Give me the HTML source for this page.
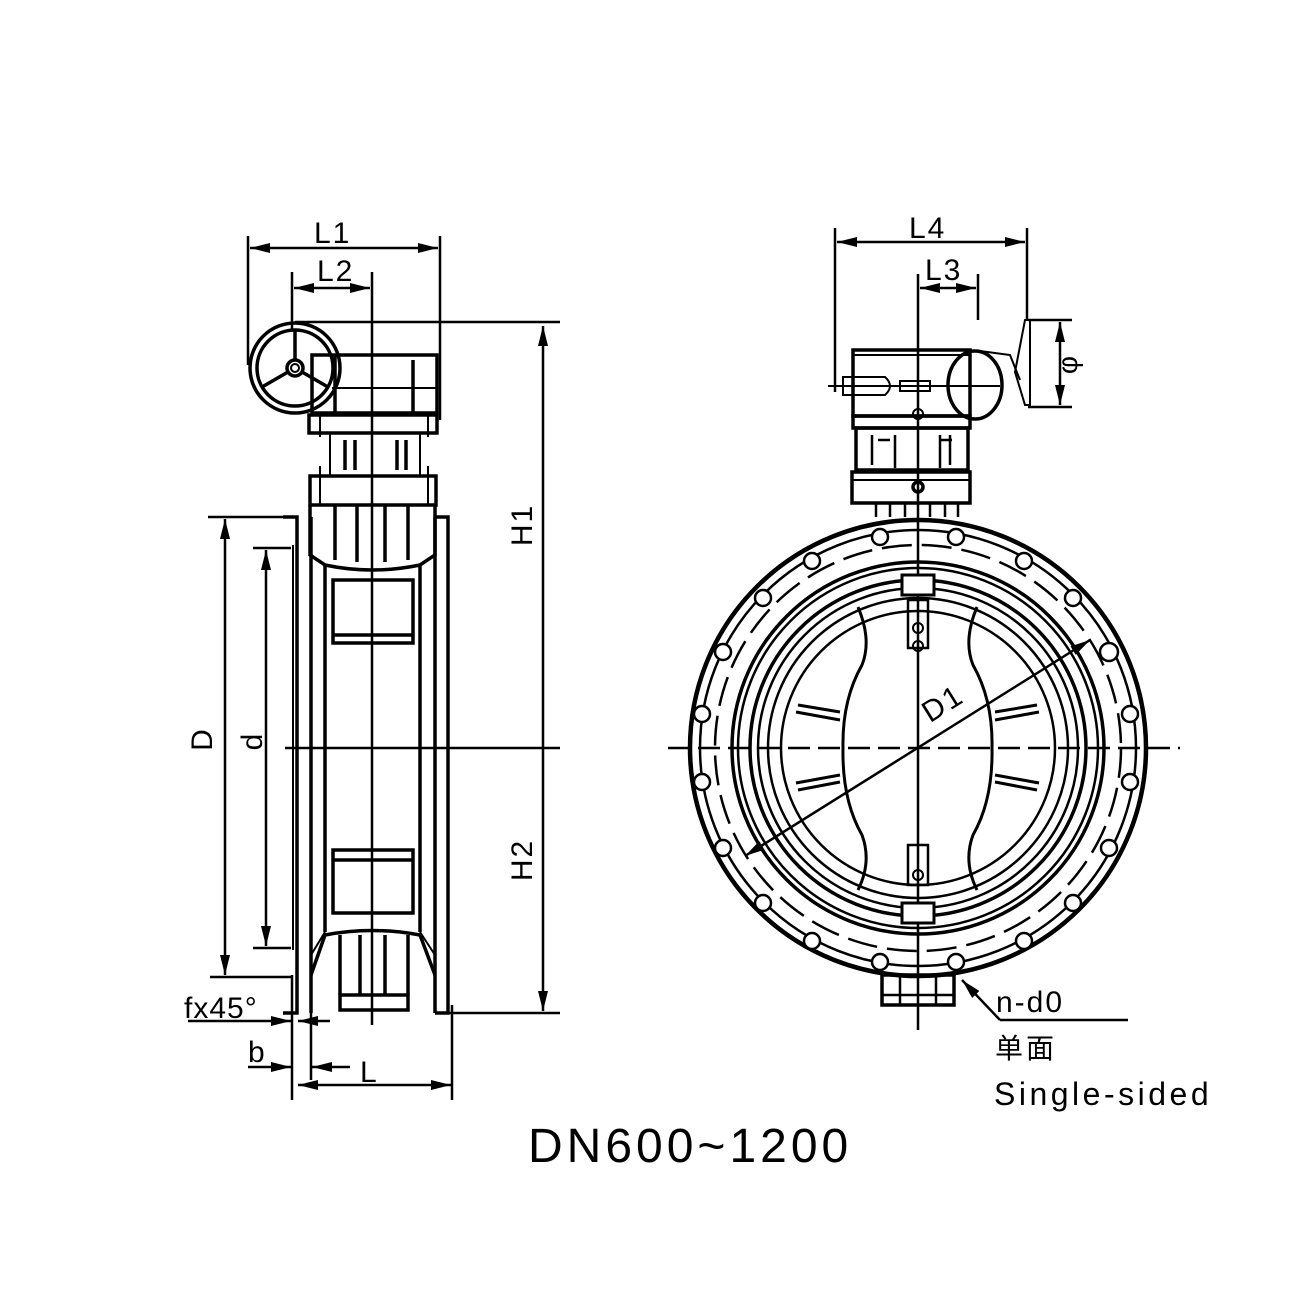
<!DOCTYPE html>
<html><head><meta charset="utf-8"><style>html,body{margin:0;padding:0;background:#fff}svg{display:block}</style></head>
<body>
<svg width="1303" height="1302" viewBox="0 0 1303 1302" xmlns="http://www.w3.org/2000/svg">
<defs>
<marker id="b" viewBox="0 0 20 10" refX="20" refY="5" markerWidth="20" markerHeight="10" markerUnits="userSpaceOnUse" orient="auto-start-reverse"><path d="M0,0 L20,5 L0,10 z" fill="#000"/></marker>
</defs>
<g stroke="#000" fill="none" stroke-width="3.5">
<g stroke-width="2.5">
<line x1="248" y1="236" x2="248" y2="365"/><line x1="440" y1="236" x2="440" y2="420"/>
<line x1="250" y1="248" x2="438" y2="248" marker-start="url(#b)" marker-end="url(#b)"/>
<line x1="292" y1="272" x2="292" y2="330"/><line x1="372" y1="272" x2="372" y2="420"/>
<line x1="294" y1="288" x2="370" y2="288" marker-start="url(#b)" marker-end="url(#b)"/>
<line x1="295" y1="322" x2="560" y2="322"/>
<line x1="543" y1="326" x2="543" y2="1011" marker-start="url(#b)" marker-end="url(#b)"/>
<line x1="440" y1="1013" x2="560" y2="1013"/>
<line x1="285" y1="748" x2="560" y2="748"/>
<line x1="208" y1="517" x2="292" y2="517"/><line x1="210" y1="977" x2="292" y2="977"/>
<line x1="225" y1="519" x2="225" y2="975" marker-start="url(#b)" marker-end="url(#b)"/>
<line x1="253" y1="548" x2="291" y2="548"/><line x1="253" y1="948" x2="291" y2="948"/>
<line x1="266" y1="550" x2="266" y2="946" marker-start="url(#b)" marker-end="url(#b)"/>
<line x1="188" y1="1021" x2="291" y2="1021" marker-end="url(#b)"/>
<line x1="330" y1="1021" x2="298" y2="1021" marker-end="url(#b)"/>
<line x1="248" y1="1067" x2="291" y2="1067" marker-end="url(#b)"/>
<line x1="350" y1="1067" x2="312" y2="1067" marker-end="url(#b)"/>
<line x1="298" y1="1085" x2="451" y2="1085" marker-start="url(#b)" marker-end="url(#b)"/>
<line x1="292" y1="975" x2="292" y2="1100"/><line x1="311" y1="1013" x2="311" y2="1080"/><line x1="452" y1="1005" x2="452" y2="1100"/>
</g>
<circle cx="295" cy="368" r="45"/><circle cx="295" cy="368" r="38"/>
<circle cx="295" cy="368" r="8"/><circle cx="295" cy="368" r="4" stroke-width="2"/>
<path d="M295,330 V360 M262,387 L288,372 M328,387 L302,372" stroke-width="3.5"/>
<rect x="312" y="355" width="125" height="58"/>
<line x1="335" y1="355" x2="335" y2="413"/><line x1="413" y1="360" x2="413" y2="413"/>
<line x1="332" y1="388" x2="437" y2="388" stroke-width="2"/>
<rect x="309" y="415" width="128" height="18"/>
<line x1="320" y1="413" x2="320" y2="437" stroke-width="2"/><line x1="428" y1="413" x2="428" y2="437" stroke-width="2"/>
<rect x="330" y="433" width="90" height="43" stroke-width="2"/>
<line x1="345" y1="440" x2="345" y2="470"/><line x1="355" y1="440" x2="355" y2="470"/><line x1="397" y1="440" x2="397" y2="470"/><line x1="406" y1="440" x2="406" y2="470"/>
<rect x="310" y="476" width="126" height="29"/>
<line x1="320" y1="466" x2="320" y2="505" stroke-width="2"/><line x1="428" y1="466" x2="428" y2="505" stroke-width="2"/>
<path d="M310,505 V555 L325,565 Q372,575 420,565 L435,555 V505"/>
<line x1="335" y1="505" x2="335" y2="560"/><line x1="357" y1="505" x2="357" y2="562"/><line x1="385" y1="505" x2="385" y2="562"/><line x1="408" y1="505" x2="408" y2="560"/>
<path d="M283,517 H297 V1013 H283"/>
<path d="M435,517 H448 V1013 H435"/>
<line x1="293" y1="545" x2="293" y2="950" stroke-width="2"/>
<line x1="311" y1="517" x2="311" y2="1013"/><line x1="435" y1="517" x2="435" y2="1013"/>
<line x1="325" y1="565" x2="325" y2="932"/><line x1="420" y1="565" x2="420" y2="932"/>
<rect x="333" y="580" width="80" height="63"/><line x1="333" y1="635" x2="413" y2="635"/>
<rect x="333" y="850" width="80" height="63"/><line x1="333" y1="860" x2="413" y2="860"/>
<path d="M311,975 L325,935 Q372,926 420,935 L435,975"/>
<path d="M311,955 L325,932 M420,932 L435,955" stroke-width="2"/>
<rect x="340" y="995" width="68" height="15"/>
<line x1="340" y1="935" x2="340" y2="995"/><line x1="360" y1="935" x2="360" y2="995"/><line x1="385" y1="935" x2="385" y2="995"/><line x1="408" y1="935" x2="408" y2="995"/>
<line x1="372" y1="420" x2="372" y2="1025" stroke-width="2.5"/>

<g stroke-width="2.5">
<line x1="835" y1="228" x2="835" y2="392"/><line x1="1027" y1="228" x2="1027" y2="320"/>
<line x1="837" y1="242" x2="1025" y2="242" marker-start="url(#b)" marker-end="url(#b)"/>
<line x1="918" y1="274" x2="918" y2="1030"/><line x1="978" y1="274" x2="978" y2="320"/>
<line x1="920" y1="288" x2="976" y2="288" marker-start="url(#b)" marker-end="url(#b)"/>
<line x1="1028" y1="320" x2="1072" y2="320"/><line x1="1028" y1="407" x2="1072" y2="407"/>
<line x1="1060" y1="322" x2="1060" y2="405" marker-start="url(#b)" marker-end="url(#b)"/>
<line x1="668" y1="748" x2="1180" y2="748" stroke-dasharray="22,8"/>
<line x1="745" y1="856" x2="1090" y2="640" marker-start="url(#b)" marker-end="url(#b)"/>
<path d="M1000,1020 H1128" /><line x1="1000" y1="1020" x2="962" y2="980" marker-end="url(#b)"/>
</g>
<rect x="853" y="350" width="117" height="66"/>
<line x1="828" y1="386" x2="1000" y2="386" stroke-width="2"/>
<path d="M843,377 H885 Q895,386 885,395 H843 Z" stroke-width="2"/>
<rect x="900" y="381" width="30" height="10" stroke-width="2"/>
<ellipse cx="975" cy="385" rx="27" ry="34"/>
<path d="M980,351 L1010,355 L1020,380" stroke-width="2"/>
<path d="M1025,320 L1030,320 V405 H1025 L1015,372 Z" stroke-width="2"/>
<line x1="853" y1="355" x2="970" y2="355" stroke-width="2"/>
<rect x="853" y="416" width="117" height="12"/>
<rect x="856" y="428" width="112" height="42"/>
<path d="M872,435 V465 M950,435 V465 M878,440 H890 M940,440 H952 M895,435 V468 M940,435 V468" stroke-width="2.5"/>
<rect x="852" y="472" width="118" height="31"/>
<line x1="852" y1="480" x2="970" y2="480" stroke-width="2"/>
<circle cx="918" cy="487" r="5"/><circle cx="918" cy="414" r="5" stroke-width="2"/>
<path d="M876,503 V517 M890,503 V517 M905,503 V517 M930,503 V517 M945,503 V517 M958,503 V517" stroke-width="2.5"/>
<circle cx="918" cy="748" r="228" stroke-width="4.5"/>
<circle cx="918" cy="748" r="218" stroke-width="2.5"/>
<circle cx="918" cy="748" r="203" stroke-width="2.5" stroke-dasharray="30,10"/>
<circle cx="918" cy="748" r="186" stroke-width="3.5"/>
<circle cx="918" cy="748" r="180" stroke-width="2.5"/>
<circle cx="918" cy="748" r="168" stroke-width="3.5"/>
<circle cx="918" cy="748" r="160" stroke-width="2.5"/>
<circle cx="918" cy="748" r="150" stroke-width="2.5"/>
<circle cx="918" cy="748" r="137" stroke-width="2.5"/>
<g stroke-width="2.5" fill="#fff">
<circle cx="880" cy="537" r="8"/><circle cx="956" cy="537" r="8"/>
<circle cx="812" cy="561" r="8"/><circle cx="1024" cy="561" r="8"/>
<circle cx="763" cy="598" r="8"/><circle cx="1073" cy="598" r="8"/>
<circle cx="723" cy="652" r="8"/><circle cx="1109" cy="652" r="9"/>
<circle cx="702" cy="714" r="8"/><circle cx="1130" cy="714" r="8"/>
<circle cx="702" cy="782" r="8"/><circle cx="1130" cy="782" r="8"/>
<circle cx="723" cy="848" r="8"/><circle cx="1109" cy="848" r="8"/>
<circle cx="763" cy="903" r="8"/><circle cx="1073" cy="903" r="8"/>
<circle cx="812" cy="941" r="8"/><circle cx="1024" cy="941" r="8"/>
<circle cx="880" cy="962" r="8"/><circle cx="956" cy="962" r="8"/>
</g>
<path d="M858,607 Q872,640 862,665 Q842,700 843,748 Q842,800 862,835 Q872,862 858,890" stroke-width="3"/>
<path d="M977,607 Q963,640 973,665 Q993,700 992,748 Q993,800 973,835 Q963,862 977,890" stroke-width="3"/>
<path d="M798,705 L840,712 M796,712 L840,720 M798,790 L840,782 M796,783 L840,775 M1037,705 L995,712 M1039,712 L995,720 M1037,790 L995,782 M1039,783 L995,775" stroke-width="3"/>
<rect x="902" y="575" width="32" height="20" stroke-width="3" fill="#fff"/>
<rect x="902" y="903" width="32" height="20" stroke-width="3" fill="#fff"/>
<rect x="908" y="600" width="20" height="48" stroke-width="2.5"/>
<rect x="908" y="845" width="20" height="40" stroke-width="2.5"/>
<circle cx="918" cy="628" r="5" stroke-width="2"/><circle cx="918" cy="646" r="5" stroke-width="2"/>
<circle cx="918" cy="875" r="5" stroke-width="2"/>
<rect x="882" y="975" width="72" height="30"/>
<path d="M900,975 V1005 M936,975 V1005 M882,995 H954" stroke-width="2.5"/>
</g>
<g font-family="'Liberation Sans','Noto Sans CJK SC',sans-serif" fill="#000">
<text x="314" y="243" font-size="30" letter-spacing="2">L1</text>
<text x="317" y="281" font-size="30" letter-spacing="2">L2</text>
<text x="909" y="238" font-size="30" letter-spacing="2">L4</text>
<text x="925" y="280" font-size="30" letter-spacing="2">L3</text>
<text transform="translate(1077,365) rotate(-90)" font-size="28" text-anchor="middle">φ</text>
<text transform="translate(532,525) rotate(-90)" font-size="30" text-anchor="middle" letter-spacing="2">H1</text>
<text transform="translate(532,860) rotate(-90)" font-size="30" text-anchor="middle" letter-spacing="2">H2</text>
<text transform="translate(212,740) rotate(-90)" font-size="30" text-anchor="middle">D</text>
<text transform="translate(262,742) rotate(-90)" font-size="30" text-anchor="middle">d</text>
<text transform="translate(948,712) rotate(-32)" font-size="30" text-anchor="middle" letter-spacing="2">D1</text>
<text x="184" y="1018" font-size="30" letter-spacing="1">fx45°</text>
<text x="248" y="1062" font-size="30">b</text>
<text x="360" y="1082" font-size="30">L</text>
<text x="996" y="1012" font-size="30" letter-spacing="2">n-d0</text>
<text x="995" y="1058" font-size="28" letter-spacing="3">单面</text>
<text x="994" y="1105" font-size="32" letter-spacing="3.5">Single-sided</text>
<text x="528" y="1162" font-size="48" letter-spacing="4">DN600~1200</text>
</g>
</svg>
</body></html>
